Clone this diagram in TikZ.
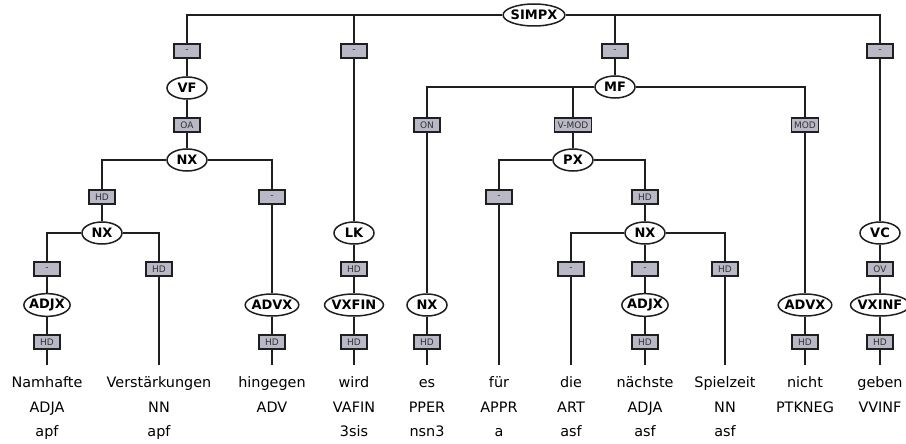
\documentclass[tikz,border=0pt]{standalone}
\usepackage{fontspec}
\setmainfont{DejaVu Sans}
\usetikzlibrary{shapes.geometric}
\definecolor{labelgray}{RGB}{184,184,198}
\begin{document}
\begin{tikzpicture}[x=1pt,y=-1pt,inner sep=0pt,line width=1.5pt,color=black!88,
catnode/.style={draw,ellipse,inner xsep=-1.5pt,inner ysep=2pt,minimum width=40pt,minimum height=22pt,text=black,font=\fontsize{13}{15}\selectfont\bfseries},
edgelabel/.style={draw,rectangle,fill=labelgray,inner xsep=3pt,minimum width=26pt,minimum height=14pt,line width=1.2pt,text=black!80,font=\fontsize{9}{10}\selectfont},
wordnode/.style={anchor=base,text height=11pt,text depth=3.5pt,outer ysep=11pt,text=black,font=\fontsize{14.4}{17}\selectfont},
tagnode/.style={anchor=base,text=black,font=\fontsize{14.4}{17}\selectfont}]
\useasboundingbox (0,0) rectangle (906,444);
\draw (534,15) node[catnode] (simpx) {SIMPX};
\draw (187,51) node[edgelabel] (lvf) {-};
\draw (354,51) node[edgelabel] (llk) {-};
\draw (615,51) node[edgelabel] (lmf) {-};
\draw (880,51) node[edgelabel] (lvc) {-};
\draw (187,88) node[catnode] (vf) {VF};
\draw (615,87) node[catnode] (mf) {MF};
\draw (187,125) node[edgelabel] (loa) {OA};
\draw (427,125) node[edgelabel] (lon) {ON};
\draw (573,125) node[edgelabel] (lvmod) {V-MOD};
\draw (805,125) node[edgelabel] (lmod) {MOD};
\draw (187,160) node[catnode] (nxvf) {NX};
\draw (573,160) node[catnode] (px) {PX};
\draw (102,197) node[edgelabel] (lhda) {HD};
\draw (272,197) node[edgelabel] (lmina) {-};
\draw (499,197) node[edgelabel] (lminb) {-};
\draw (645,197) node[edgelabel] (lhdb) {HD};
\draw (102,233) node[catnode] (nxhd) {NX};
\draw (354,233) node[catnode] (lk) {LK};
\draw (645,233) node[catnode] (nxpx) {NX};
\draw (880,233) node[catnode] (vc) {VC};
\draw (47,269) node[edgelabel] (lminc) {-};
\draw (159,269) node[edgelabel] (lhdc) {HD};
\draw (354,269) node[edgelabel] (lhdd) {HD};
\draw (571,269) node[edgelabel] (lmind) {-};
\draw (645,269) node[edgelabel] (lmine) {-};
\draw (725,269) node[edgelabel] (lhde) {HD};
\draw (880,269) node[edgelabel] (lov) {OV};
\draw (47,305) node[catnode] (adjxa) {ADJX};
\draw (272,305) node[catnode] (advxa) {ADVX};
\draw (354,305) node[catnode] (vxfin) {VXFIN};
\draw (427,305) node[catnode] (nxes) {NX};
\draw (645,305) node[catnode] (adjxb) {ADJX};
\draw (805,305) node[catnode] (advxb) {ADVX};
\draw (880,305) node[catnode] (vxinf) {VXINF};
\draw (47,342) node[edgelabel] (lhdf) {HD};
\draw (272,342) node[edgelabel] (lhdg) {HD};
\draw (354,342) node[edgelabel] (lhdh) {HD};
\draw (427,342) node[edgelabel] (lhdi) {HD};
\draw (645,342) node[edgelabel] (lhdj) {HD};
\draw (805,342) node[edgelabel] (lhdk) {HD};
\draw (880,342) node[edgelabel] (lhdl) {HD};
\draw (47,387) node[wordnode] (wnam) {Namhafte} (47,412) node[tagnode] (pnam) {ADJA} (47,436) node[tagnode] (mnam) {apf};
\draw (159,387) node[wordnode] (wver) {Verstärkungen} (159,412) node[tagnode] (pver) {NN} (159,436) node[tagnode] (mver) {apf};
\draw (272,387) node[wordnode] (whin) {hingegen} (272,412) node[tagnode] (phin) {ADV};
\draw (354,387) node[wordnode] (wwird) {wird} (354,412) node[tagnode] (pwird) {VAFIN} (354,436) node[tagnode] (mwird) {3sis};
\draw (427,387) node[wordnode] (wes) {es} (427,412) node[tagnode] (pes) {PPER} (427,436) node[tagnode] (mes) {nsn3};
\draw (499,387) node[wordnode] (wfuer) {für} (499,412) node[tagnode] (pfuer) {APPR} (499,436) node[tagnode] (mfuer) {a};
\draw (571,387) node[wordnode] (wdie) {die} (571,412) node[tagnode] (pdie) {ART} (571,436) node[tagnode] (mdie) {asf};
\draw (645,387) node[wordnode] (wnaech) {nächste} (645,412) node[tagnode] (pnaech) {ADJA} (645,436) node[tagnode] (mnaech) {asf};
\draw (725,387) node[wordnode] (wspiel) {Spielzeit} (725,412) node[tagnode] (pspiel) {NN} (725,436) node[tagnode] (mspiel) {asf};
\draw (805,387) node[wordnode] (wnicht) {nicht} (805,412) node[tagnode] (pnicht) {PTKNEG};
\draw (880,387) node[wordnode] (wgeben) {geben} (880,412) node[tagnode] (pgeben) {VVINF};
\draw (simpx) -| (lvf);
\draw (simpx) -| (llk);
\draw (simpx) -| (lmf);
\draw (simpx) -| (lvc);
\draw (lvf) -- (vf);
\draw (vf) -- (loa);
\draw (loa) -- (nxvf);
\draw (nxvf) -| (lhda);
\draw (nxvf) -| (lmina);
\draw (lhda) -- (nxhd);
\draw (nxhd) -| (lminc);
\draw (nxhd) -| (lhdc);
\draw (lminc) -- (adjxa);
\draw (adjxa) -- (lhdf);
\draw (lhdf) -- (wnam);
\draw (lhdc) -- (wver);
\draw (lmina) -- (advxa);
\draw (advxa) -- (lhdg);
\draw (lhdg) -- (whin);
\draw (llk) -- (lk);
\draw (lk) -- (lhdd);
\draw (lhdd) -- (vxfin);
\draw (vxfin) -- (lhdh);
\draw (lhdh) -- (wwird);
\draw (lmf) -- (mf);
\draw (mf) -| (lon);
\draw (mf) -| (lvmod);
\draw (mf) -| (lmod);
\draw (lon) -- (nxes);
\draw (nxes) -- (lhdi);
\draw (lhdi) -- (wes);
\draw (lvmod) -- (px);
\draw (px) -| (lminb);
\draw (px) -| (lhdb);
\draw (lminb) -- (wfuer);
\draw (lhdb) -- (nxpx);
\draw (nxpx) -| (lmind);
\draw (nxpx) -- (lmine);
\draw (nxpx) -| (lhde);
\draw (lmind) -- (wdie);
\draw (lmine) -- (adjxb);
\draw (adjxb) -- (lhdj);
\draw (lhdj) -- (wnaech);
\draw (lhde) -- (wspiel);
\draw (lmod) -- (advxb);
\draw (advxb) -- (lhdk);
\draw (lhdk) -- (wnicht);
\draw (lvc) -- (vc);
\draw (vc) -- (lov);
\draw (lov) -- (vxinf);
\draw (vxinf) -- (lhdl);
\draw (lhdl) -- (wgeben);
\end{tikzpicture}
\end{document}
